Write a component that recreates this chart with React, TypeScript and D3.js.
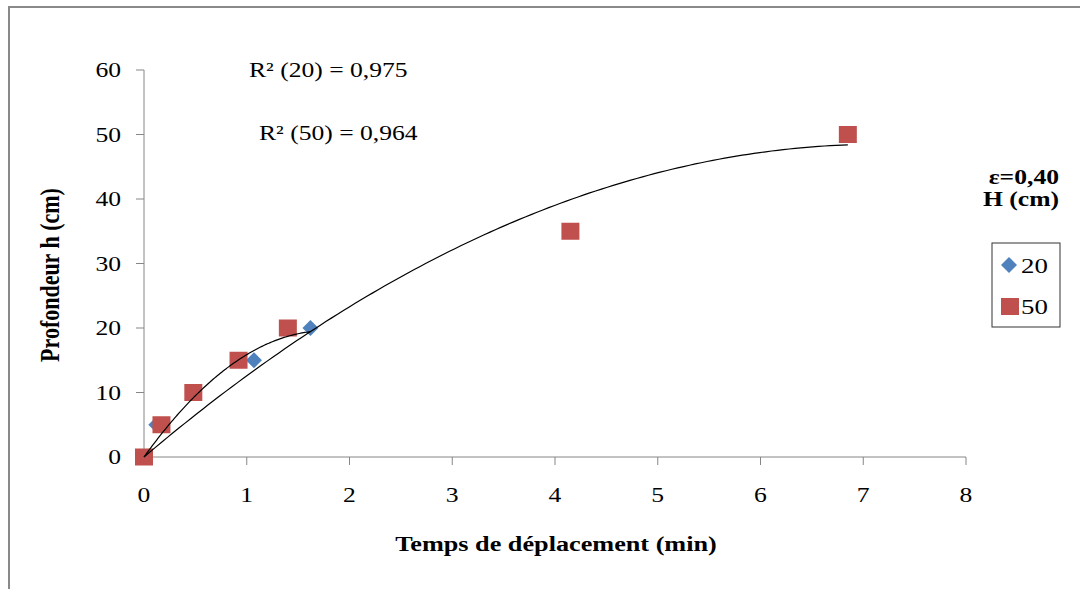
import React from "react";
import * as d3 from "d3";

// Depth reached (cm) versus displacement time (min), for two initial heights H
const series20X = [0, 0.12, 0.48, 1.07, 1.62];
const series20Y = [0, 5, 10, 15, 20];
const series50X = [0, 0.17, 0.48, 0.92, 1.4, 4.15, 6.85];
const series50Y = [0, 5, 10, 15, 20, 35, 50];

const xTicks = [0, 1, 2, 3, 4, 5, 6, 7, 8];
const yTicks = [0, 10, 20, 30, 40, 50, 60];
const legendLabels = ["20", "50"];
const r2Labels = ["R² (20) = 0,975", "R² (50) = 0,964"];

const W = 1080;
const H = 589;
const FONT = "'Times New Roman', 'Liberation Serif', serif";
const SX = 1.22; // horizontal text stretch

const BLUE = "#4F81BD";
const RED = "#C0504D";
const AXIS = "#868686";

// least-squares quadratic through the origin: y = b x + c x^2
function quadFitOrigin(xs: number[], ys: number[]) {
  let s2 = 0, s3 = 0, s4 = 0, t1 = 0, t2 = 0;
  xs.forEach((x, i) => {
    const y = ys[i];
    s2 += x * x; s3 += x * x * x; s4 += x * x * x * x;
    t1 += x * y; t2 += x * x * y;
  });
  const det = s2 * s4 - s3 * s3;
  const b = (t1 * s4 - t2 * s3) / det;
  const c = (s2 * t2 - s3 * t1) / det;
  return (x: number) => b * x + c * x * x;
}

function SText(props: {
  x: number;
  y: number;
  size: number;
  anchor?: "start" | "middle" | "end";
  bold?: boolean;
  rotate?: number;
  children: React.ReactNode;
}) {
  const { x, y, size, anchor = "start", bold, rotate = 0, children } = props;
  return (
    <text
      transform={`translate(${x},${y}) scale(${SX},1) rotate(${rotate})`}
      fontFamily={FONT}
      fontSize={size}
      fontWeight={bold ? "bold" : "normal"}
      textAnchor={anchor}
      fill="#000"
    >
      {children}
    </text>
  );
}

export default function App() {
  const x = d3.scaleLinear().domain([0, 8]).range([144, 966]);
  const y = d3.scaleLinear().domain([0, 60]).range([457, 70]);

  const fit20 = quadFitOrigin(series20X, series20Y);
  const fit50 = quadFitOrigin(series50X, series50Y);

  const curve = (f: (v: number) => number, xmax: number) => {
    const pts: [number, number][] = d3.range(0, 121).map((i) => {
      const xv = (xmax * i) / 120;
      return [x(xv), y(f(xv))];
    });
    return d3.line()(pts) || "";
  };

  const pts20 = series20X.map((v, i) => ({ x: v, y: series20Y[i] }));
  const pts50 = series50X.map((v, i) => ({ x: v, y: series50Y[i] }));

  const diamond = (cx: number, cy: number, r: number) =>
    `M${cx},${cy - r}L${cx + r},${cy}L${cx},${cy + r}L${cx - r},${cy}Z`;

  return (
    <svg
      width={W}
      height={H}
      style={{ position: "absolute", left: 0, top: 0, display: "block", background: "#fff" }}
    >
      <rect x={0} y={0} width={W} height={H} fill="#fff" />
      {/* chart frame */}
      <rect x={9} y={7} width={W + 20} height={H + 20} fill="none" stroke="#898989" strokeWidth={2} />

      {/* axes */}
      <line x1={x(0)} y1={y(0)} x2={x(8)} y2={y(0)} stroke={AXIS} strokeWidth={1} />
      <line x1={x(0)} y1={y(0)} x2={x(0)} y2={y(60)} stroke={AXIS} strokeWidth={1} />
      {xTicks.map((t) => (
        <g key={`xt${t}`}>
          <line x1={x(t)} y1={y(0)} x2={x(t)} y2={y(0) + 8} stroke={AXIS} />
          <SText x={x(t)} y={502} size={21} anchor="middle">
            {t}
          </SText>
        </g>
      ))}
      {yTicks.map((t) => (
        <g key={`yt${t}`}>
          <line x1={x(0) - 8} y1={y(t)} x2={x(0)} y2={y(t)} stroke={AXIS} />
          <SText x={121} y={y(t) + 7} size={21} anchor="end">
            {t}
          </SText>
        </g>
      ))}

      {/* markers */}
      {pts20.map((p, i) => (
        <path key={`d${i}`} d={diamond(x(p.x), y(p.y), 8)} fill={BLUE} />
      ))}
      {pts50.map((p, i) => (
        <rect key={`s${i}`} x={x(p.x) - 9} y={y(p.y) - 8.5} width={18} height={17} fill={RED} />
      ))}

      {/* polynomial trend lines */}
      <path d={curve(fit20, d3.max(series20X) as number)} fill="none" stroke="#000" strokeWidth={1.2} />
      <path d={curve(fit50, d3.max(series50X) as number)} fill="none" stroke="#000" strokeWidth={1.2} />

      {/* R² annotations */}
      <SText x={249} y={77} size={21}>
        {r2Labels[0]}
      </SText>
      <SText x={259} y={140} size={21}>
        {r2Labels[1]}
      </SText>

      {/* axis titles */}
      <SText x={556} y={551} size={21.5} anchor="middle" bold>
        Temps de déplacement (min)
      </SText>
      <SText x={59} y={275} size={22} anchor="middle" bold rotate={-90}>
        Profondeur h (cm)
      </SText>

      {/* legend */}
      <SText x={1059} y={184} size={21} anchor="end" bold>
        ε=0,40
      </SText>
      <SText x={1059} y={206} size={21} anchor="end" bold>
        H (cm)
      </SText>
      <rect x={992} y={243} width={68} height={84} fill="#fff" stroke="#333" strokeWidth={1} />
      <path d={diamond(1009, 265, 8)} fill={BLUE} />
      <SText x={1021} y={273} size={22}>
        {legendLabels[0]}
      </SText>
      <rect x={1001} y={298} width={18} height={17} fill={RED} />
      <SText x={1021} y={314} size={22}>
        {legendLabels[1]}
      </SText>
    </svg>
  );
}
